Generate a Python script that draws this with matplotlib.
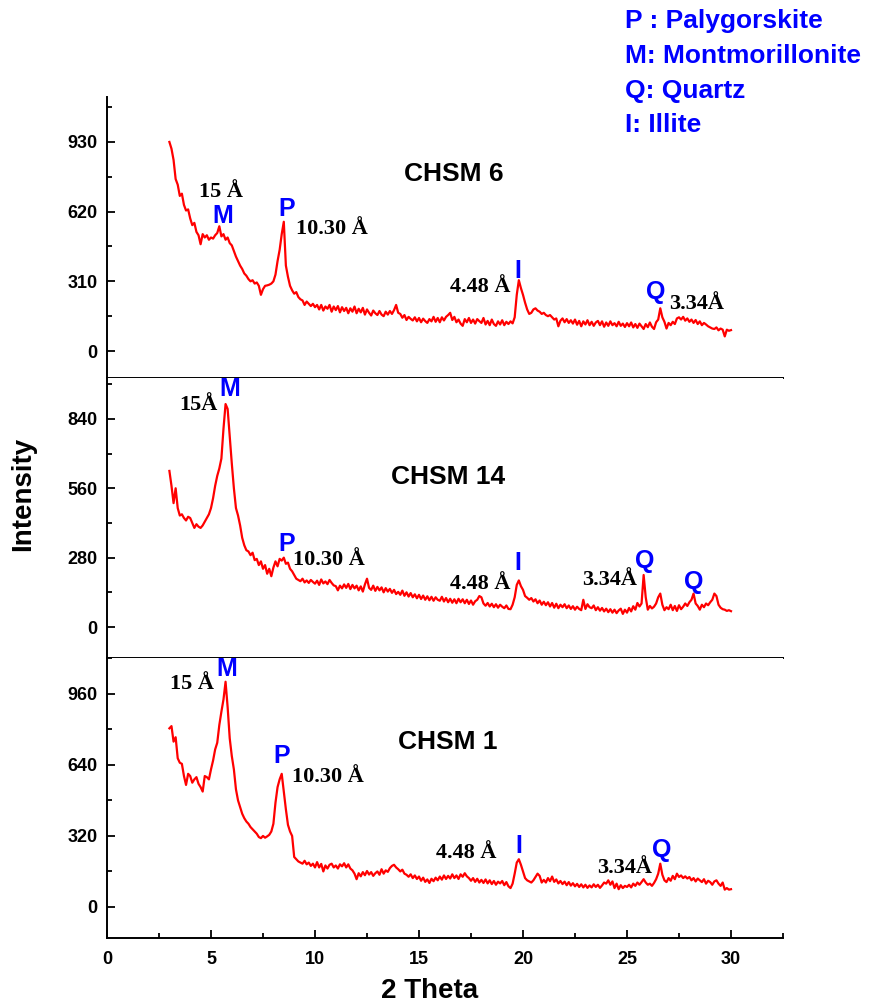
import numpy as np
import matplotlib
matplotlib.use("Agg")
import matplotlib.pyplot as plt
from matplotlib.ticker import MultipleLocator

# 2 theta grid, 3.0 .. 30.0 deg in 0.1 steps
two_theta = np.round(np.arange(30, 301) / 10.0, 1)

# intensities, one row per degree
chsm6 = [
    930, 900, 850, 765, 740, 690, 700, 650, 625, 630,
    590, 560, 570, 530, 515, 475, 520, 505, 515, 495,
    505, 500, 515, 525, 555, 510, 520, 495, 505, 480,
    470, 445, 420, 400, 380, 365, 345, 335, 320, 310,
    315, 300, 305, 290, 250, 275, 290, 292, 295, 300,
    310, 340, 400, 450, 520, 575, 380, 330, 290, 270,
    255, 262, 240, 230, 225, 205, 220, 210, 200, 210,
    195, 205, 185, 205, 180, 198, 188, 205, 175, 198,
    182, 200, 172, 195, 178, 192, 168, 190, 175, 198,
    168, 188, 172, 192, 162, 185, 170, 158, 180, 168,
    160, 178, 162, 155, 175, 162, 178, 165, 182, 205,
    170, 165, 148, 160, 138, 152, 143, 136, 150, 132,
    147, 128, 144, 133, 125, 142, 132, 152, 130, 147,
    128, 150, 136, 152, 160, 170, 138, 152, 128, 140,
    122, 112, 142, 128, 147, 125, 140, 122, 142, 133,
    125, 147, 118, 134, 115, 140, 120, 112, 132, 118,
    137, 115, 130, 120, 132, 123, 150, 250, 315, 280,
    250, 215, 185, 165, 170, 185, 190, 180, 175, 165,
    170, 160, 155, 160, 150, 140, 145, 110, 135, 145,
    128, 142, 125, 137, 122, 140, 117, 134, 110, 132,
    118, 137, 115, 130, 112, 127, 134, 115, 132, 108,
    127, 112, 132, 115, 124, 110, 130, 112, 122, 107,
    124, 110, 127, 105, 120, 103, 122, 110, 98, 120,
    106, 127, 108, 98, 128, 140, 190, 150, 130, 100,
    125, 115, 130, 120, 145, 150, 140, 152, 135, 145,
    130, 140, 125, 138, 120, 132, 115, 125, 118, 110,
    105, 100, 98, 105, 92, 100, 95, 65, 95, 90,
    93,
]

chsm14 = [
    630, 570, 500, 560, 480, 450, 455, 440, 430, 445,
    440, 420, 400, 415, 405, 400, 410, 425, 440, 455,
    480, 520, 570, 610, 640, 680, 800, 900, 880, 770,
    660, 560, 480, 450, 410, 360, 330, 310, 305, 290,
    300, 270, 275, 250, 265, 235, 250, 215, 235, 205,
    240, 265, 245, 275, 268, 280, 255, 260, 235, 225,
    210, 195, 190, 185, 195, 180, 188, 178, 190, 182,
    175, 187, 170, 192, 176, 184, 173, 190, 178, 168,
    165, 148, 167, 156, 172, 158, 174, 153, 170, 156,
    167, 148, 164, 143, 172, 195, 158, 150, 167, 146,
    162, 148, 160, 140, 157, 143, 154, 138, 150, 133,
    142, 130, 147, 126, 140, 123, 137, 120, 132, 116,
    130, 113, 127, 110, 124, 108, 122, 106, 120, 110,
    106, 122, 103, 117, 100, 114, 98, 112, 96, 114,
    100, 112, 96, 110, 93, 107, 90, 104, 110, 125,
    120, 95, 86, 97, 83, 94, 80, 92, 78, 90,
    82, 76, 87, 73, 72, 90, 120, 170, 188, 165,
    150, 125, 118, 110, 117, 103, 112, 96, 107, 90,
    102, 88, 100, 83, 97, 78, 94, 76, 90, 80,
    92, 76, 87, 73, 84, 70, 82, 73, 68, 110,
    73, 92, 80, 76, 87, 68, 80, 66, 77, 63,
    74, 60, 72, 58, 70, 56, 67, 74, 53, 70,
    58, 77, 63, 84, 70, 97, 83, 95, 210, 120,
    70, 85, 75, 82, 95, 120, 135, 90, 68, 80,
    72, 90, 68, 85, 65, 88, 72, 82, 95, 85,
    100, 110, 135, 95, 85, 70, 90, 80, 95, 88,
    100, 110, 135, 125, 90, 78, 72, 70, 65, 68,
    64,
]

chsm1 = [
    805, 815, 745, 765, 670, 650, 645, 590, 550, 600,
    590, 560, 575, 585, 555, 540, 520, 590, 585, 575,
    620, 660, 710, 740, 820, 880, 935, 1015, 900, 760,
    680, 620, 530, 480, 450, 420, 400, 385, 375, 360,
    350, 340, 330, 315, 310, 320, 312, 318, 325, 340,
    375, 470, 540, 575, 600, 520, 440, 370, 340, 320,
    225, 215, 205, 200, 195, 208, 192, 200, 185, 195,
    178, 202, 178, 194, 160, 187, 173, 190, 195, 178,
    187, 173, 192, 183, 197, 178, 192, 173, 165, 150,
    125, 152, 138, 157, 143, 162, 146, 157, 140, 152,
    160, 145, 170, 150, 165, 158, 175, 185, 190, 178,
    170, 160, 168, 150, 145, 136, 147, 130, 142, 126,
    137, 118, 132, 113, 124, 108, 127, 116, 132, 120,
    137, 123, 142, 126, 140, 128, 147, 130, 142, 126,
    147, 136, 152, 138, 130, 118, 130, 113, 127, 110,
    122, 108, 124, 106, 120, 103, 117, 100, 114, 106,
    117, 98, 112, 93, 85, 105, 150, 200, 215, 190,
    160, 130, 120, 115, 110, 120, 135, 150, 140, 110,
    122, 110, 130, 116, 137, 113, 124, 106, 117, 103,
    114, 98, 112, 96, 107, 93, 104, 90, 102, 88,
    100, 86, 97, 88, 102, 90, 100, 86, 97, 110,
    105, 120, 100, 115, 85, 105, 80, 98, 85, 95,
    90, 100, 88, 105, 95, 110, 100, 112, 125, 110,
    100, 105, 95, 108, 125, 150, 195, 145, 120, 112,
    130, 118, 140, 125, 150, 135, 142, 130, 138, 128,
    135, 120, 130, 115, 128, 120, 112, 125, 105, 118,
    112, 100, 115, 120, 105, 95, 110, 78, 85, 78,
    80,
]

samples = ["CHSM 6", "CHSM 14", "CHSM 1"]
series = [chsm6, chsm14, chsm1]

# per panel: y limits, major / minor tick step
ylims = [(-120, 1130), (-125, 1005), (-140, 1122)]
ysteps = [(310, 155), (280, 140), (320, 160)]

# annotations: (x, baseline y, text)  -- peak letters (blue) and d-spacings (black)
letters = [
    [(5.55, 568, "M"), (8.65, 601, "P"), (19.74, 323, "I"), (26.39, 230, "Q")],
    [(5.90, 932, "M"), (8.65, 305, "P"), (19.74, 232, "I"), (25.87, 240, "Q"), (28.22, 155, "Q")],
    [(5.75, 1041, "M"), (8.41, 648, "P"), (19.80, 245, "I"), (26.67, 227, "Q")],
]
dspacings = [
    [(5.48, 685, "15 Å"), (10.80, 521, "10.30 Å"), (17.96, 261, "4.48 Å"), (28.34, 186, "3.34Å")],
    [(4.42, 875, "15Å"), (10.67, 249, "10.30 Å"), (17.96, 155, "4.48 Å"), (24.18, 169, "3.34Å")],
    [(4.07, 981, "15 Å"), (10.61, 565, "10.30 Å"), (17.25, 219, "4.48 Å"), (24.90, 152, "3.34Å")],
]
title_pos = [(16.66, 758), (16.39, 578), (16.39, 711)]

legend_lines = ["P : Palygorskite", "M: Montmorillonite", "Q: Quartz", "I: Illite"]

SANS = "Liberation Sans"
SERIF = "Liberation Serif"
BLUE = "#0000ff"

fig = plt.figure(figsize=(8.72, 10.06), dpi=100)

left, width = 107 / 872, 676 / 872
panel_px = [(97, 378), (378, 658), (658, 938)]

for i in range(3):
    top_px, bot_px = panel_px[i]
    ax = fig.add_axes([left, 1 - bot_px / 1006, width, (bot_px - top_px) / 1006])
    ax.plot(two_theta, series[i], color="red", lw=1.6)
    ax.set_xlim(0, 32.5)
    ax.set_ylim(*ylims[i])
    ax.yaxis.set_major_locator(MultipleLocator(ysteps[i][0]))
    ax.yaxis.set_minor_locator(MultipleLocator(ysteps[i][1]))
    ax.xaxis.set_major_locator(MultipleLocator(5))
    ax.xaxis.set_minor_locator(MultipleLocator(2.5))
    for s in ["top", "right"]:
        ax.spines[s].set_visible(False)
    for s in ["left", "bottom"]:
        ax.spines[s].set_linewidth(1.4)
    ax.tick_params(axis="y", which="major", direction="in", length=6, width=1.3, pad=7)
    ax.tick_params(axis="y", which="minor", direction="in", length=3.5, width=1.3)
    if i < 2:
        ax.tick_params(axis="x", which="both", length=0, labelbottom=False)
    else:
        ax.tick_params(axis="x", which="major", direction="in", length=6, width=1.3, pad=9)
        ax.tick_params(axis="x", which="minor", direction="in", length=3.5, width=1.3)
    for lab in ax.get_yticklabels() + ax.get_xticklabels():
        lab.set_fontfamily(SANS)
        lab.set_fontweight("bold")
        lab.set_fontsize(13)

    for x, y, t in letters[i]:
        ax.text(x, y, t, color=BLUE, fontsize=18, fontweight="bold",
                family=SANS, ha="center", va="baseline")
    for x, y, t in dspacings[i]:
        ax.text(x, y, t, color="black", fontsize=16, fontweight="bold",
                family=SERIF, ha="center", va="baseline")
    tx, ty = title_pos[i]
    ax.text(tx, ty, samples[i], fontsize=19, fontweight="bold", family=SANS,
            ha="center", va="baseline")

fig.text(23 / 872, 0.509, "Intensity", rotation=90, fontsize=20, fontweight="bold",
         family=SANS, ha="center", va="center")
fig.text(430 / 872, 1 - 998 / 1006, "2 Theta", fontsize=20, fontweight="bold",
         family=SANS, ha="center", va="baseline")

for k, line in enumerate(legend_lines):
    fig.text(625 / 872, 1 - [28, 63, 98, 132][k] / 1006, line, color=BLUE,
             fontsize=19, fontweight="bold", family=SANS, ha="left", va="baseline")

fig.savefig("out.png", dpi=100)
